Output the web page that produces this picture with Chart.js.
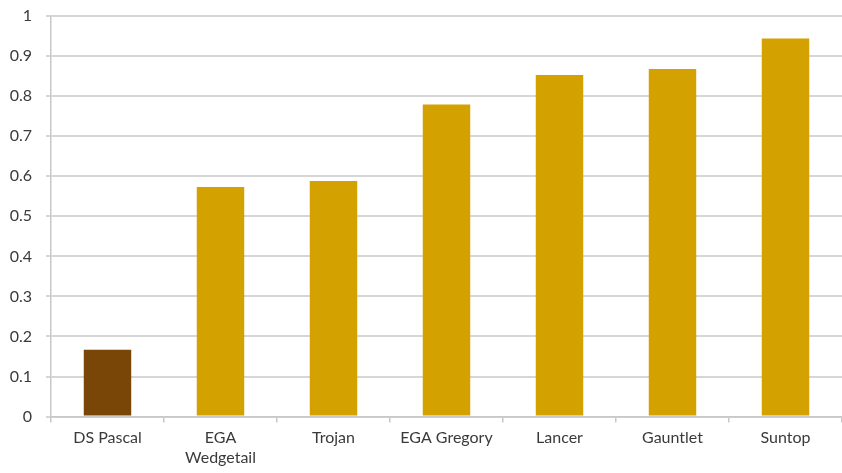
<!DOCTYPE html>
<html><head><meta charset="utf-8">
<script src="https://cdn.jsdelivr.net/npm/chart.js@4"></script>
<style>html,body{margin:0;padding:0;background:#fff}#wrap{width:842px;height:473px}</style>
</head><body><div id="wrap"><canvas id="c"></canvas></div>
<script>
const categories = ['DS Pascal', ['EGA','Wedgetail'], 'Trojan', 'EGA Gregory', 'Lancer', 'Gauntlet', 'Suntop'];
const values = [0.167, 0.573, 0.588, 0.779, 0.853, 0.868, 0.944];
const barColors = ['#7a4607', '#d3a100', '#d3a100', '#d3a100', '#d3a100', '#d3a100', '#d3a100'];
const yTicks = [0, 0.1, 0.2, 0.3, 0.4, 0.5, 0.6, 0.7, 0.8, 0.9, 1];

new Chart(document.getElementById('c'), {
  type: 'bar',
  data: { labels: categories, datasets: [{ data: values, backgroundColor: barColors, barPercentage: 0.42, categoryPercentage: 1 }] },
  options: {
    responsive: true, maintainAspectRatio: false, animation: false,
    layout: { padding: { top: 16, right: 0, bottom: 0, left: 0 } },
    plugins: { legend: { display: false }, tooltip: { enabled: false } },
    scales: {
      x: {
        grid: { drawOnChartArea: false, drawTicks: true, tickLength: 6, color: '#c8c8c8', lineWidth: 1.5 },
        border: { color: '#c8c8c8', width: 1.5 },
        ticks: { color: '#3a3a3a', font: { family: 'Lato', size: 16 }, padding: 6, maxRotation: 0, autoSkip: false }
      },
      y: {
        min: 0, max: 1,
        afterBuildTicks: (s) => { s.ticks = yTicks.map(v => ({ value: v })); },
        afterFit: (s) => { s.width = 51; s.paddingTop = 0; s.paddingBottom = 0; },
        grid: { color: '#d6d6d6', lineWidth: 2, tickLength: 5 },
        border: { color: '#c8c8c8', width: 1.5 },
        ticks: { color: '#3a3a3a', font: { family: 'Lato', size: 16 }, padding: 14, callback: v => String(v) }
      }
    }
  }
});
</script></body></html>
